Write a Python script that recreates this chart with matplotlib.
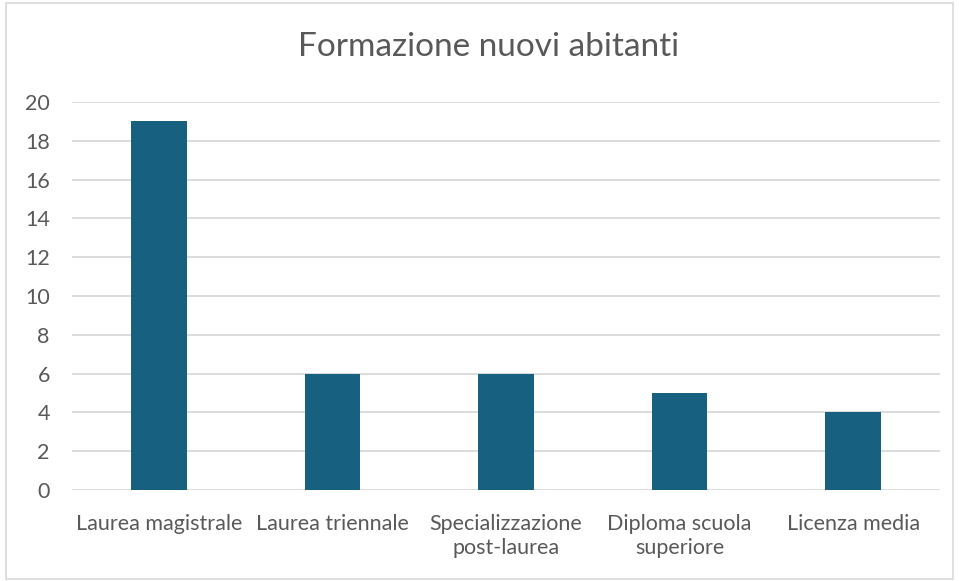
import matplotlib.pyplot as plt
from matplotlib.patches import Rectangle

categories = ["Laurea magistrale", "Laurea triennale", "Specializzazione\npost-laurea",
              "Diploma scuola\nsuperiore", "Licenza media"]
values = [19, 6, 6, 5, 4]
yticks = [0, 2, 4, 6, 8, 10, 12, 14, 16, 18, 20]

plt.rcParams['font.family'] = ['Lato', 'DejaVu Sans']
text_color = '#595959'

fig = plt.figure(figsize=(9.59, 5.81), dpi=100)
ax = fig.add_axes([72/959, 1 - 490/581, (940-72)/959, (490-102)/581])

x = range(len(categories))
ax.bar(x, values, width=0.32, color='#17607f', zorder=3)

ax.set_xlim(-0.5, len(categories) - 0.5)
ax.set_ylim(0, 20)
ax.set_yticks(yticks)
ax.set_xticks(list(x))
ax.set_xticklabels(categories, fontsize=15.5, color=text_color, linespacing=1.3)
ax.tick_params(axis='y', labelsize=15.5, labelcolor=text_color, length=0, pad=16)
ax.tick_params(axis='x', length=0, pad=17)
for lbl in ax.get_yticklabels():
    lbl.set_horizontalalignment('right')

ax.grid(axis='y', color='#d9d9d9', linewidth=1.3, zorder=0)
for s in ax.spines.values():
    s.set_visible(False)

fig.text(489/959, 1 - 47/581, "Formazione nuovi abitanti", ha='center', va='center',
         fontsize=24, color=text_color)

fig.patches.append(Rectangle((6/959, 2/581), 947/959, 576/581, transform=fig.transFigure,
                             fill=False, edgecolor='#d9d9d9', linewidth=1.2))

fig.savefig('out.png', dpi=100)
